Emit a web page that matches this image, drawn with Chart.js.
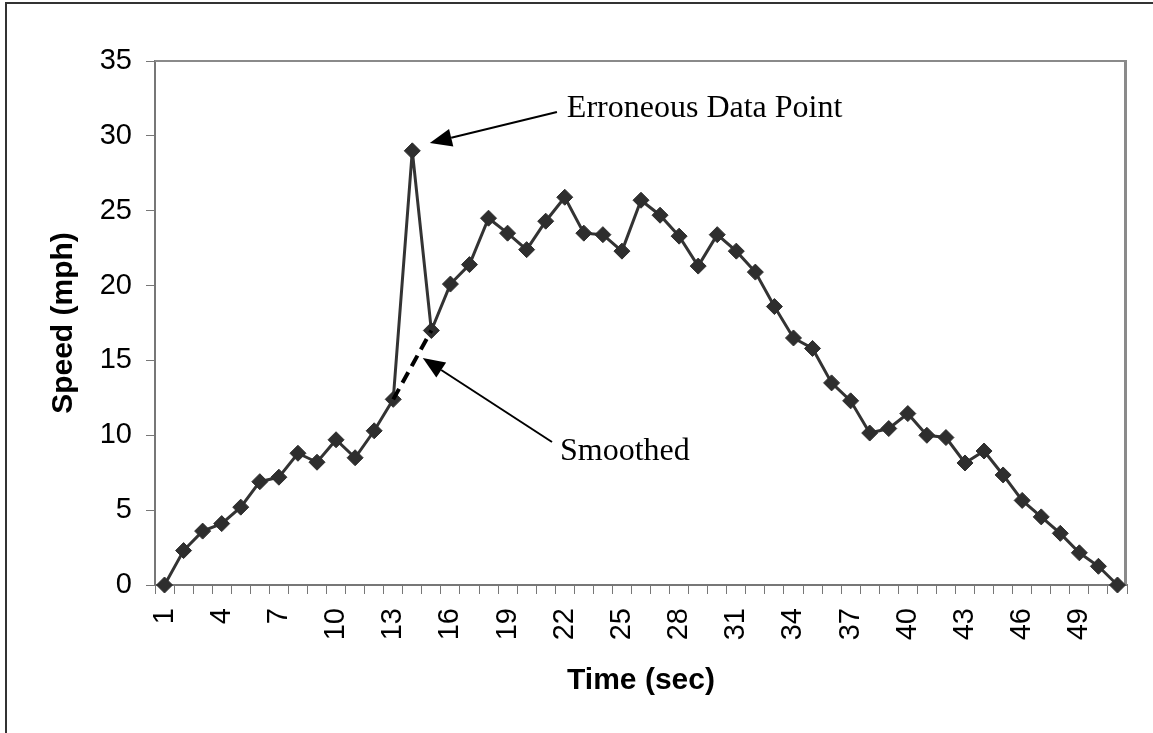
<!DOCTYPE html>
<html><head><meta charset="utf-8">
<script src="https://cdn.jsdelivr.net/npm/chart.js@4"></script>
<style>html,body{margin:0;padding:0;background:#fff}canvas{display:block}</style>
</head><body>
<canvas id="c" width="1153" height="733"></canvas>
<script>
const timeLabels = ['1','2','3','4','5','6','7','8','9','10','11','12','13','14','15','16','17','18','19','20','21','22','23','24','25','26','27','28','29','30','31','32','33','34','35','36','37','38','39','40','41','42','43','44','45','46','47','48','49','50','51'];
const speedValues = [0, 2.3, 3.6, 4.1, 5.2, 6.9, 7.2, 8.8, 8.2, 9.7, 8.5, 10.3, 12.4, 29.0, 17.0, 20.1, 21.4, 24.5, 23.5, 22.4, 24.3, 25.9, 23.5, 23.4, 22.3, 25.7, 24.7, 23.3, 21.3, 23.4, 22.3, 20.9, 18.6, 16.5, 15.8, 13.5, 12.3, 10.15, 10.45, 11.45, 10.0, 9.85, 8.15, 8.95, 7.35, 5.65, 4.55, 3.45, 2.15, 1.25, 0];
const smoothedValues = [null,null,null,null,null,null,null,null,null,null,null,null,12.4,14.7,17.0,null,null,null,null,null,null,null,null,null,null,null,null,null,null,null,null,null,null,null,null,null,null,null,null,null,null,null,null,null,null,null,null,null,null,null,null];
const shownTickLabels = ['1','4','7','10','13','16','19','22','25','28','31','34','37','40','43','46','49'];
const yMin = 0, yMax = 35, yStep = 5;
const xTitle = 'Time (sec)';
const yTitle = 'Speed (mph)';
// annotations in data coordinates: [category index (0-based), mph]
const annotationTexts = ['Erroneous Data Point', 'Smoothed'];
const annotationAnchors = [[21.11, 31.26], [20.75, 8.35]];
const arrowTails = [[20.59, 31.59], [20.33, 9.55]];
const arrowTips = [[13.92, 29.52], [13.55, 15.16]];

function drawArrow(ctx, x1, y1, x2, y2) {
  const ang = Math.atan2(y2 - y1, x2 - x1);
  const hl = 22, hw = 9;
  const bx = x2 - Math.cos(ang) * hl, by = y2 - Math.sin(ang) * hl;
  ctx.beginPath();
  ctx.moveTo(x1, y1); ctx.lineTo(bx, by);
  ctx.lineWidth = 2; ctx.strokeStyle = '#000'; ctx.stroke();
  ctx.beginPath();
  ctx.moveTo(x2, y2);
  ctx.lineTo(bx + Math.sin(ang) * hw, by - Math.cos(ang) * hw);
  ctx.lineTo(bx - Math.sin(ang) * hw, by + Math.cos(ang) * hw);
  ctx.closePath(); ctx.fillStyle = '#000'; ctx.fill();
}

const decorPlugin = {
  id: 'decor',
  beforeDraw(chart) {
    const ctx = chart.ctx;
    ctx.save();
    ctx.fillStyle = '#fff'; ctx.fillRect(0, 0, chart.width, chart.height);
    ctx.strokeStyle = '#333'; ctx.lineWidth = 2;
    ctx.beginPath();
    ctx.moveTo(6, chart.height + 5); ctx.lineTo(6, 3); ctx.lineTo(chart.width + 5, 3);
    ctx.stroke();
    ctx.restore();
  },
  beforeDatasetsDraw(chart) {
    const ctx = chart.ctx, a = chart.chartArea;
    ctx.save();
    ctx.strokeStyle = '#8a8a8a';
    ctx.lineWidth = 2;
    ctx.beginPath(); ctx.moveTo(a.left, a.top); ctx.lineTo(a.right, a.top); ctx.stroke();
    ctx.lineWidth = 3;
    ctx.beginPath(); ctx.moveTo(a.right - 1.5, a.top - 1); ctx.lineTo(a.right - 1.5, a.bottom); ctx.stroke();
    ctx.restore();
  },
  afterDatasetsDraw(chart) {
    const ctx = chart.ctx, xs = chart.scales.x, ys = chart.scales.y;
    ctx.save();
    for (let i = 0; i < arrowTips.length; i++) {
      drawArrow(ctx, xs.getPixelForValue(arrowTails[i][0]), ys.getPixelForValue(arrowTails[i][1]),
                     xs.getPixelForValue(arrowTips[i][0]), ys.getPixelForValue(arrowTips[i][1]));
    }
    ctx.fillStyle = '#000';
    ctx.font = '32px "Liberation Serif", "Times New Roman", serif';
    ctx.textAlign = 'left'; ctx.textBaseline = 'alphabetic';
    for (let i = 0; i < annotationTexts.length; i++) {
      ctx.fillText(annotationTexts[i], xs.getPixelForValue(annotationAnchors[i][0]), ys.getPixelForValue(annotationAnchors[i][1]));
    }
    ctx.restore();
  }
};

new Chart(document.getElementById('c'), {
  type: 'line',
  data: {
    labels: timeLabels,
    datasets: [
      { label: 'Speed', data: speedValues, order: 1, borderColor: '#333', backgroundColor: '#333',
        borderWidth: 3, pointStyle: 'rectRot', pointRadius: 8, pointBorderWidth: 1,
        pointBackgroundColor: '#2e2e2e', pointBorderColor: '#2e2e2e', tension: 0, clip: false },
      { label: 'Smoothed', data: smoothedValues, order: 0, borderColor: '#000', borderWidth: 4,
        borderDash: [12, 7], pointRadius: 0, tension: 0, spanGaps: false, clip: false }
    ]
  },
  options: {
    responsive: false, animation: false, devicePixelRatio: 1,
    layout: { padding: { top: 61, right: 26, left: 0, bottom: 0 } },
    plugins: { legend: { display: false }, tooltip: { enabled: false } },
    scales: {
      x: {
        offset: true,
        grid: { offset: true, drawOnChartArea: false, drawTicks: true, tickLength: 9, color: '#777', lineWidth: 1 },
        border: { display: true, color: '#777', width: 2 },
        ticks: {
          autoSkip: false, minRotation: 90, maxRotation: 90, padding: 14, color: '#000',
          font: { family: '"Liberation Sans", Arial, sans-serif', size: 29 },
          callback: function(v, i) { const l = timeLabels[i]; return shownTickLabels.includes(l) ? l : ''; }
        },
        title: { display: true, text: xTitle, color: '#000', padding: { top: 4, bottom: 34 },
          font: { family: '"Liberation Sans", Arial, sans-serif', size: 30, weight: 'bold' } },
        afterFit: s => { s.height = 148; s.paddingLeft = 0; s.paddingRight = 0; }
      },
      y: {
        min: yMin, max: yMax,
        grid: { drawOnChartArea: false, drawTicks: true, tickLength: 9, color: '#777' },
        border: { display: true, color: '#777', width: 2 },
        ticks: { stepSize: yStep, padding: 14, color: '#000',
          font: { family: '"Liberation Sans", Arial, sans-serif', size: 29 } },
        title: { display: true, text: yTitle, color: '#000', padding: { top: 46, bottom: 4 },
          font: { family: '"Liberation Sans", Arial, sans-serif', size: 30, weight: 'bold' } },
        afterFit: s => { s.width = 155; s.paddingTop = 0; s.paddingBottom = 0; }
      }
    }
  },
  plugins: [decorPlugin]
});
</script>
</body></html>
